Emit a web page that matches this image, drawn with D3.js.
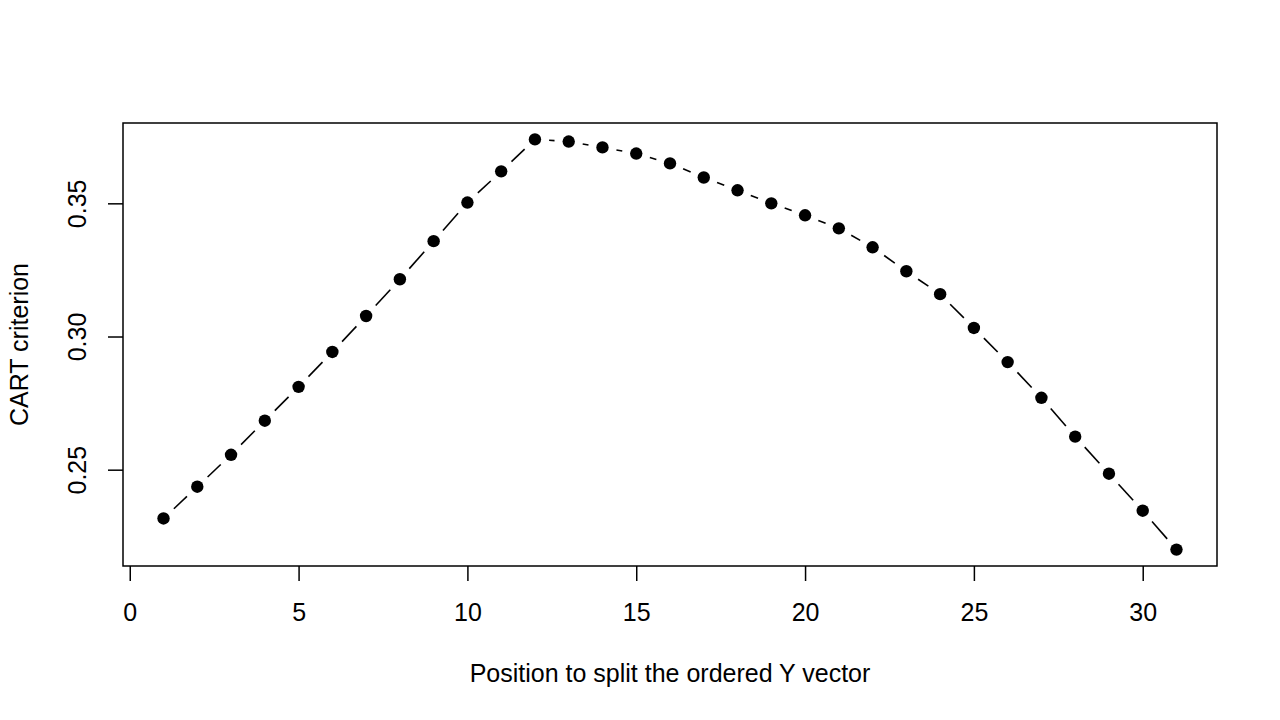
<!DOCTYPE html>
<html>
<head>
<meta charset="utf-8">
<script src="https://cdn.jsdelivr.net/npm/d3@7"></script>
<style>
  html, body { margin: 0; padding: 0; background: #fff; }
  svg { display: block; }
  text { font-family: "Liberation Sans", Arial, Helvetica, sans-serif; fill: #000; }
</style>
</head>
<body>
<svg id="chart" width="1280" height="720"></svg>
<script>
// ---- data ----
const positions = d3.range(1, 32);
const criterion = [
  0.2317, 0.2436, 0.2556, 0.2684, 0.2811, 0.2942, 0.3077, 0.3215, 0.3358, 0.3503,
  0.3620, 0.3740, 0.3732, 0.3710, 0.3687, 0.3650, 0.3597, 0.3549, 0.3500, 0.3455,
  0.3406, 0.3335, 0.3245, 0.3159, 0.3032, 0.2904, 0.2770, 0.2624, 0.2485, 0.2346,
  0.2200
];
const xTicks = [0, 5, 10, 15, 20, 25, 30];
const yTicks = [0.25, 0.30, 0.35];
const xLabel = "Position to split the ordered Y vector";
const yLabel = "CART criterion";

// ---- layout ----
const plot = { left: 123, right: 1217, top: 123, bottom: 566 };
const svg = d3.select("#chart");

function padded(ext) {
  const r = ext[1] - ext[0];
  return [ext[0] - 0.04 * r, ext[1] + 0.04 * r];
}
const x = d3.scaleLinear().domain(padded(d3.extent(positions))).range([plot.left, plot.right]);
const y = d3.scaleLinear().domain(padded(d3.extent(criterion))).range([plot.bottom, plot.top]);

const data = positions.map((p, i) => ({ x: p, y: criterion[i] }));

// ---- box ----
svg.append("rect")
  .attr("x", plot.left).attr("y", plot.top)
  .attr("width", plot.right - plot.left).attr("height", plot.bottom - plot.top)
  .attr("fill", "none").attr("stroke", "#000").attr("stroke-width", 1.5);

// ---- axes ----
const xAxis = d3.axisBottom(x).tickValues(xTicks).tickSize(15).tickPadding(0).tickFormat(d3.format("d"));
const gx = svg.append("g").attr("transform", `translate(0,${plot.bottom})`).call(xAxis);
gx.select(".domain").remove();
gx.selectAll(".tick line").attr("stroke", "#000").attr("stroke-width", 1.5);
gx.selectAll(".tick text").attr("font-size", 25).attr("dy", null).attr("y", 621 - plot.bottom)
  .attr("dominant-baseline", "alphabetic").attr("text-anchor", "middle");

const yAxis = d3.axisLeft(y).tickValues(yTicks).tickSize(15).tickFormat(d3.format(".2f"));
const gy = svg.append("g").attr("transform", `translate(${plot.left},0)`).call(yAxis);
gy.select(".domain").remove();
gy.selectAll(".tick line").attr("stroke", "#000").attr("stroke-width", 1.5);
gy.selectAll(".tick text")
  .attr("font-size", 25)
  .attr("x", null).attr("dy", null)
  .attr("text-anchor", "middle")
  .attr("transform", `translate(${85.5 - plot.left},0) rotate(-90)`);

// ---- axis titles ----
svg.append("text")
  .attr("x", (plot.left + plot.right) / 2).attr("y", 682)
  .attr("text-anchor", "middle").attr("font-size", 25)
  .text(xLabel);
svg.append("text")
  .attr("transform", `translate(28,${(plot.top + plot.bottom) / 2}) rotate(-90)`)
  .attr("text-anchor", "middle").attr("font-size", 25)
  .text(yLabel);

// ---- type="b" dashed segments with gaps around points ----
const gap = 14.2;
const segs = [];
for (let i = 0; i < data.length - 1; i++) {
  const x0 = x(data[i].x), y0 = y(data[i].y), x1 = x(data[i + 1].x), y1 = y(data[i + 1].y);
  const dx = x1 - x0, dy = y1 - y0, len = Math.hypot(dx, dy);
  if (len > 2 * gap) {
    const f = gap / len;
    segs.push([[x0 + dx * f, y0 + dy * f], [x1 - dx * f, y1 - dy * f]]);
  }
}
const line = d3.line();
svg.append("g").selectAll("path").data(segs).join("path")
  .attr("d", d => line(d))
  .attr("fill", "none").attr("stroke", "#000").attr("stroke-width", 1.6)
  .attr("stroke-dasharray", "26 26");

// ---- points (pch 20) ----
svg.append("g").selectAll("circle").data(data).join("circle")
  .attr("cx", d => x(d.x)).attr("cy", d => y(d.y)).attr("r", 6.2)
  .attr("fill", "#000");
</script>
</body>
</html>
